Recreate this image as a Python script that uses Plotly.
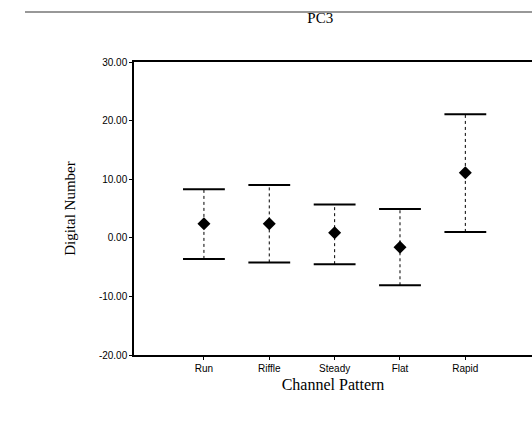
import plotly.graph_objects as go

categories = ["Run", "Riffle", "Steady", "Flat", "Rapid"]
means = [2.4, 2.4, 0.85, -1.6, 11.1]
upper = [8.3, 9.0, 5.7, 4.9, 21.1]
lower = [-3.6, -4.2, -4.5, -8.1, 1.0]
y_ticks = [30, 20, 10, 0, -10, -20]
y_tick_labels = ["30.00", "20.00", "10.00", "0.00", "-10.00", "-20.00"]

xpos = list(range(len(categories)))
cap_half = 0.32

# vertical dotted whiskers
vx, vy = [], []
for x, lo, hi in zip(xpos, lower, upper):
    vx += [x, x, None]
    vy += [lo, hi, None]

# caps
cx, cy = [], []
for x, lo, hi in zip(xpos, lower, upper):
    cx += [x - cap_half, x + cap_half, None, x - cap_half, x + cap_half, None]
    cy += [hi, hi, None, lo, lo, None]

fig = go.Figure()
fig.add_trace(go.Scatter(x=vx, y=vy, mode="lines",
                         line=dict(color="black", width=1, dash="dot"),
                         hoverinfo="skip", showlegend=False))
fig.add_trace(go.Scatter(x=cx, y=cy, mode="lines",
                         line=dict(color="black", width=2),
                         hoverinfo="skip", showlegend=False))
fig.add_trace(go.Scatter(x=xpos, y=means, mode="markers",
                         marker=dict(symbol="diamond", size=10, color="black"),
                         showlegend=False))

fig.update_layout(
    width=532, height=423,
    margin=dict(l=134, r=0, t=62, b=68),
    paper_bgcolor="white", plot_bgcolor="white",
    title=dict(text="PC3", x=0.602, xanchor="center", y=0.957, yanchor="middle",
               font=dict(family="Liberation Serif", size=15, color="black")),
    xaxis=dict(range=[-1.07, 5.02], tickvals=xpos, ticktext=categories,
               showline=True, linecolor="black", linewidth=1.5, mirror=True,
               ticks="outside", ticklen=3, tickcolor="black",
               showgrid=False, zeroline=False,
               tickfont=dict(family="Liberation Sans", size=10, color="black"),
               title=dict(text="Channel Pattern", standoff=6,
                          font=dict(family="Liberation Serif", size=16, color="black"))),
    yaxis=dict(range=[-20, 30], tickvals=y_ticks, ticktext=y_tick_labels,
               showline=True, linecolor="black", linewidth=1.5,
               ticks="outside", ticklen=3, tickcolor="black",
               showgrid=False, zeroline=False,
               tickfont=dict(family="Liberation Sans", size=10, color="black"),
               title=dict(text="Digital Number", standoff=20,
                          font=dict(family="Liberation Serif", size=15, color="black"))),
)

# scan top border line (page edge)
fig.add_shape(type="line", xref="paper", yref="paper",
              x0=-0.274, x1=1.0, y0=(423 - 68 - 12) / (423 - 62 - 68),
              y1=(423 - 68 - 12) / (423 - 62 - 68),
              line=dict(color="#333333", width=1.2))

fig.write_html("out.html", config={"displayModeBar": False},
               post_script="document.body.style.margin='0';")
